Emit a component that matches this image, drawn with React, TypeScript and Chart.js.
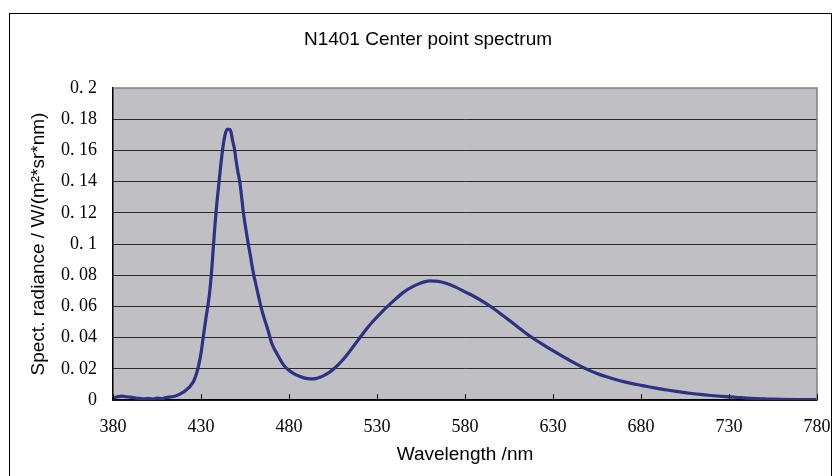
import React, { useEffect, useRef } from "react";
import { Chart, registerables } from "chart.js";

Chart.register(...registerables);

const chartTitle = "N1401 Center point spectrum";
const xAxisTitle = "Wavelength /nm";
const yAxisTitle = "Spect. radiance / W/(m²*sr*nm)";

const wavelengths = [
  380, 383, 385, 388, 390, 393, 395, 398, 400, 403, 405, 408, 410, 413, 415, 418, 420, 422, 424, 426,
  428, 429, 430, 431, 432, 433, 434, 435, 436, 437, 438, 439, 440, 441, 442, 443, 444, 445, 446, 447,
  448, 449, 450, 451, 452, 453, 454, 455, 456, 457, 458, 459, 460, 461, 462, 463, 464, 466, 468, 469,
  470, 472, 474, 476, 478, 480, 483, 486, 489, 492, 495, 498, 500, 503, 506, 510, 513, 516, 520, 524,
  528, 532, 536, 540, 545, 550, 555, 560, 565, 570, 575, 580, 585, 590, 595, 600, 605, 610, 615, 620,
  625, 630, 635, 640, 645, 650, 655, 660, 665, 670, 675, 680, 685, 690, 695, 700, 705, 710, 715, 720,
  725, 730, 735, 740, 745, 750, 755, 760, 770, 780,
];

const radiance = [
  0.0012, 0.0022, 0.0025, 0.002, 0.0018, 0.0012, 0.001, 0.0008, 0.001, 0.0006, 0.0012, 0.0009, 0.0016, 0.002, 0.0024, 0.0038, 0.005, 0.0068, 0.009, 0.0125,
  0.019, 0.024, 0.03, 0.038, 0.046, 0.054, 0.061, 0.07, 0.082, 0.098, 0.113, 0.126, 0.137, 0.148, 0.158, 0.166, 0.1715, 0.1735, 0.1735, 0.172,
  0.166, 0.161, 0.153, 0.146, 0.14, 0.131, 0.121, 0.113, 0.106, 0.099, 0.093, 0.086, 0.08, 0.075, 0.07, 0.065, 0.06, 0.052, 0.045, 0.041,
  0.037, 0.032, 0.028, 0.024, 0.021, 0.019, 0.0168, 0.0152, 0.014, 0.0135, 0.0137, 0.0147, 0.0158, 0.0178, 0.0205, 0.025, 0.029, 0.0335, 0.0395, 0.0455,
  0.0508, 0.0556, 0.06, 0.0642, 0.069, 0.0725, 0.075, 0.0763, 0.076, 0.0745, 0.0722, 0.0693, 0.0665, 0.0632, 0.0596, 0.0555, 0.0512, 0.0468, 0.0425, 0.0386,
  0.035, 0.0316, 0.0283, 0.0251, 0.022, 0.0193, 0.017, 0.015, 0.0133, 0.0118, 0.0105, 0.0094, 0.0083, 0.0073, 0.0064, 0.0055, 0.0047, 0.004, 0.0034, 0.0029,
  0.0024, 0.002, 0.0016, 0.0012, 0.0009, 0.0007, 0.0005, 0.0004, 0.0003, 0.0003,
];

const xTickValues = [380, 430, 480, 530, 580, 630, 680, 730, 780];
const xTickLabels = ["380", "430", "480", "530", "580", "630", "680", "730", "780"];
const yTickValues = [0, 0.02, 0.04, 0.06, 0.08, 0.1, 0.12, 0.14, 0.16, 0.18, 0.2];
const yTickLabels = ["0", "0. 02", "0. 04", "0. 06", "0. 08", "0. 1", "0. 12", "0. 14", "0. 16", "0. 18", "0. 2"];

const TITLE_X = 428;
const TITLE_Y = 40;

const plotDecor = {
  id: "plotDecor",
  beforeDraw(chart: any) {
    const { ctx, chartArea } = chart;
    ctx.save();
    ctx.fillStyle = "#c0c0c4";
    ctx.fillRect(chartArea.left, chartArea.top, chartArea.right - chartArea.left, chartArea.bottom - chartArea.top);
    ctx.restore();
  },
  afterDatasetsDraw(chart: any) {
    const { ctx, chartArea, scales } = chart;
    ctx.save();
    ctx.strokeStyle = "#808080";
    ctx.lineWidth = 1.5;
    ctx.beginPath();
    ctx.moveTo(chartArea.left, chartArea.top);
    ctx.lineTo(chartArea.right, chartArea.top);
    ctx.lineTo(chartArea.right, chartArea.bottom);
    ctx.stroke();
    ctx.strokeStyle = "#000";
    ctx.lineWidth = 1;
    ctx.beginPath();
    xTickValues.forEach((v) => {
      const px = Math.round(scales.x.getPixelForValue(v)) + 0.5;
      ctx.moveTo(px, chartArea.bottom);
      ctx.lineTo(px, chartArea.bottom - 6);
    });
    ctx.stroke();
    ctx.fillStyle = "#000";
    ctx.font = "19px 'Liberation Sans'";
    ctx.textAlign = "center";
    ctx.textBaseline = "middle";
    ctx.fillText(chartTitle, TITLE_X, TITLE_Y);
    ctx.restore();
  },
};

export default function App() {
  const ref = useRef<HTMLCanvasElement | null>(null);
  useEffect(() => {
    if (!ref.current) return;
    const chart = new Chart(ref.current, {
      type: "line",
      data: {
        datasets: [
          {
            data: wavelengths.map((w, i) => ({ x: w, y: radiance[i] })),
            borderColor: "#2e3184",
            borderWidth: 3.2,
            pointRadius: 0,
            cubicInterpolationMode: "monotone",
            fill: false,
          },
        ],
      },
      options: {
        animation: false,
        responsive: false,
        maintainAspectRatio: false,
        layout: { padding: { left: 0, right: 17, top: 88, bottom: 0 } },
        plugins: {
          legend: { display: false },
          tooltip: { enabled: false },
          title: { display: false },
        },
        scales: {
          x: {
            type: "linear",
            min: 380,
            max: 780,
            afterFit: (s: any) => {
              s.height = 76;
            },
            afterBuildTicks: (s: any) => {
              s.ticks = xTickValues.map((v) => ({ value: v }));
            },
            ticks: {
              color: "#000",
              font: { family: "Liberation Serif", size: 18 },
              padding: 0,
              maxRotation: 0,
              autoSkip: false,
              callback: (v: any) => {
                const i = xTickValues.indexOf(Number(v));
                return i >= 0 ? xTickLabels[i] : "";
              },
            },
            grid: { display: true, drawOnChartArea: false, drawTicks: true, tickLength: 16, tickColor: "rgba(0,0,0,0)" },
            border: { display: true, color: "#000", width: 1.5 },
            title: {
              display: true,
              text: xAxisTitle,
              color: "#000",
              font: { family: "Liberation Sans", size: 19 },
              padding: { top: 10, bottom: 10 },
            },
          },
          y: {
            min: 0,
            max: 0.2,
            afterFit: (s: any) => {
              s.width = 113;
            },
            afterBuildTicks: (s: any) => {
              s.ticks = yTickValues.map((v) => ({ value: v }));
            },
            ticks: {
              color: "#000",
              font: { family: "Liberation Serif", size: 18 },
              padding: 16,
              autoSkip: false,
              callback: (_v: any, i: number) => yTickLabels[i],
            },
            grid: {
              drawTicks: false,
              color: (c: any) => (c.index === yTickValues.length - 1 ? "rgba(0,0,0,0)" : "#2a2a2a"),
              lineWidth: 1,
            },
            border: { display: true, color: "#000", width: 1.5 },
            title: {
              display: true,
              text: yAxisTitle,
              color: "#000",
              font: { family: "Liberation Sans", size: 19 },
              padding: { top: 27, bottom: 27 },
            },
          },
        },
      },
      plugins: [plotDecor],
    } as any);
    return () => chart.destroy();
  }, []);
  return (
    <div style={{ position: "absolute", left: 0, top: 0, width: 834, height: 476, overflow: "hidden", background: "#fff" }}>
      <div
        style={{
          position: "absolute",
          left: 9,
          top: 13,
          width: 823,
          height: 500,
          border: "1.5px solid #000",
          boxSizing: "border-box",
        }}
      />
      <canvas ref={ref} width={834} height={476} style={{ position: "absolute", left: 0, top: 0, width: 834, height: 476 }} />
    </div>
  );
}
